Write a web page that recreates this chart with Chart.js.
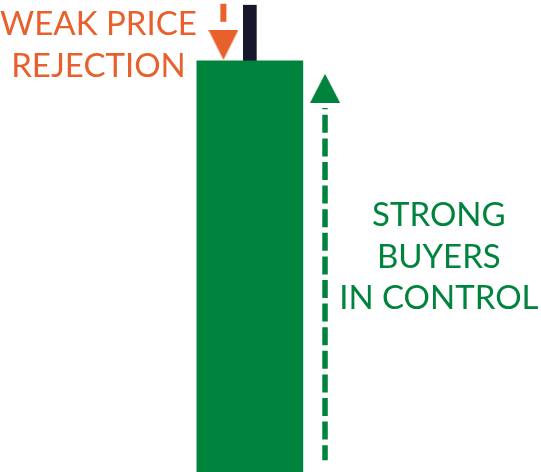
<!DOCTYPE html>
<html>
<head>
<meta charset="utf-8">
<style>
  html, body { margin: 0; padding: 0; background: #fff; }
  #candle { display: block; }
</style>
<script src="https://cdn.jsdelivr.net/npm/chart.js@4"></script>
</head>
<body>
<canvas id="candle" width="541" height="472"></canvas>
<script>
  // Candle (price units, 0-100 scale)
  const candleTimes = [0]
  const candleOpen = [0]
  const candleClose = [87.1]
  const candleHigh = [98.9]

  // Arrows
  const rejectionArrowX = [-0.25, -0.25]
  const rejectionArrowY = [99.2, 94.3]
  const buyersArrowX = [0.71, 0.71]
  const buyersArrowY = [2.5, 77.1]
  const headX = [-0.25, 0.71]
  const headY = [90.5, 81.3]

  // Labels
  const rejectionText = ['WEAK PRICE', 'REJECTION']
  const rejectionTextX = -1.43
  const rejectionTextY = [92.6, 83.7]
  const buyersText = ['STRONG', 'BUYERS', 'IN CONTROL']
  const buyersTextX = 1.785
  const buyersTextY = [52.1, 43.2, 34.5]

  const GREEN = '#00843D'
  const ORANGE = '#E8602C'
  const WICK = '#16172B'

  function arrowHead (color, w, h, down) {
    const c = document.createElement('canvas')
    c.width = w
    c.height = h
    const g = c.getContext('2d')
    g.fillStyle = color
    g.beginPath()
    if (down) {
      g.moveTo(0, 0); g.lineTo(w, 0); g.lineTo(w / 2, h)
    } else {
      g.moveTo(w / 2, 0); g.lineTo(w, h); g.lineTo(0, h)
    }
    g.closePath()
    g.fill()
    return c
  }

  const labelPlugin = {
    id: 'labels',
    afterDatasetsDraw (chart) {
      const { ctx, scales: { x, y } } = chart
      ctx.save()
      ctx.font = '33px Lato'
      ctx.textAlign = 'center'
      ctx.textBaseline = 'alphabetic'
      ctx.fillStyle = ORANGE
      rejectionText.forEach((t, i) => {
        ctx.fillText(t, x.getPixelForValue(rejectionTextX), y.getPixelForValue(rejectionTextY[i]))
      })
      ctx.fillStyle = GREEN
      buyersText.forEach((t, i) => {
        ctx.fillText(t, x.getPixelForValue(buyersTextX), y.getPixelForValue(buyersTextY[i]))
      })
      ctx.restore()
    }
  }

  const zip = (xs, ys) => xs.map((v, i) => ({ x: v, y: ys[i] }))

  new Chart(document.getElementById('candle'), {
    type: 'bar',
    data: {
      datasets: [
        {
          type: 'scatter',
          data: zip(headX, headY),
          pointStyle: [arrowHead(ORANGE, 30, 30, true), arrowHead(GREEN, 30, 29, false)],
          pointRadius: 10,
          order: 0
        },
        {
          type: 'line',
          data: zip(rejectionArrowX, rejectionArrowY),
          borderColor: ORANGE,
          borderWidth: 6,
          borderDash: [18, 6],
          borderCapStyle: 'butt',
          pointRadius: 0,
          order: 1
        },
        {
          type: 'line',
          data: zip(buyersArrowX, buyersArrowY),
          borderColor: GREEN,
          borderWidth: 5.5,
          borderDash: [18, 5.6],
          borderDashOffset: 3,
          borderCapStyle: 'butt',
          pointRadius: 0,
          order: 1
        },
        {
          data: candleTimes.map((t, i) => ({ x: t, y: [candleOpen[i], candleClose[i]] })),
          backgroundColor: GREEN,
          barThickness: 106,
          grouped: false,
          order: 2
        },
        {
          data: candleTimes.map((t, i) => ({ x: t, y: [candleClose[i], candleHigh[i]] })),
          backgroundColor: WICK,
          barThickness: 13,
          grouped: false,
          order: 3
        }
      ]
    },
    options: {
      responsive: false,
      animation: false,
      layout: { padding: 0, autoPadding: false },
      scales: {
        x: { type: 'linear', min: -2.36, max: 2.75, offset: false, display: false },
        y: { min: 0, max: 100, display: false }
      },
      plugins: {
        legend: { display: false },
        tooltip: { enabled: false }
      }
    },
    plugins: [labelPlugin]
  })
</script>
</body>
</html>
